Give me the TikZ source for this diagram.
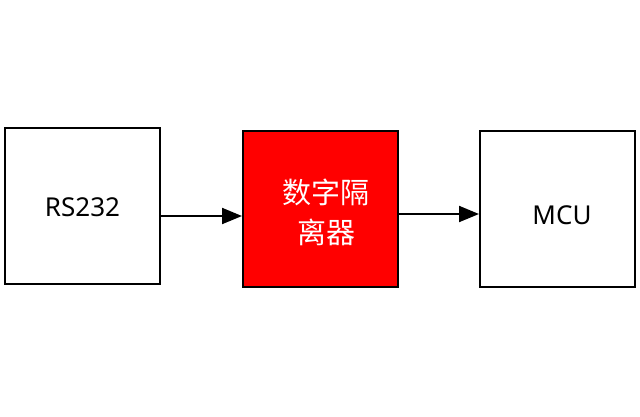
\documentclass[tikz,border=0pt]{standalone}
\usepackage{fontspec}
\setmainfont{Noto Sans}
\newfontfamily\cjk{Noto Sans CJK SC}
\usetikzlibrary{arrows.meta}
\begin{document}
\begin{tikzpicture}[x=1pt,y=-1pt,
  blk/.style={draw=black,line width=2pt,minimum width=155pt,minimum height=156pt,inner sep=0pt},
  conn/.style={draw=black,line width=2pt,-{Triangle[length=20pt,width=16pt]}}]
\useasboundingbox (0,0) rectangle (640,416);
\node[blk,fill=white] (rs) at (82.5,206) {};
\node[blk,fill=red] (iso) at (320.5,209) {};
\node[blk,fill=white] (mcu) at (557.5,209) {};
\node[font=\fontsize{26}{28}\selectfont] (rst) at (82.5,207) {RS232};
\node[font=\fontsize{26}{28}\selectfont] (mcut) at (562,215) {MCU};
\node[font=\cjk\fontsize{29}{40}\selectfont,text=white,align=center] (isot) at (326,212) {数字隔\\离器};
\draw[conn] (rs.east |- 0,216) -- (iso.west |- 0,216);
\draw[conn] (iso.east |- 0,214) -- (mcu.west |- 0,214);
\end{tikzpicture}
\end{document}
